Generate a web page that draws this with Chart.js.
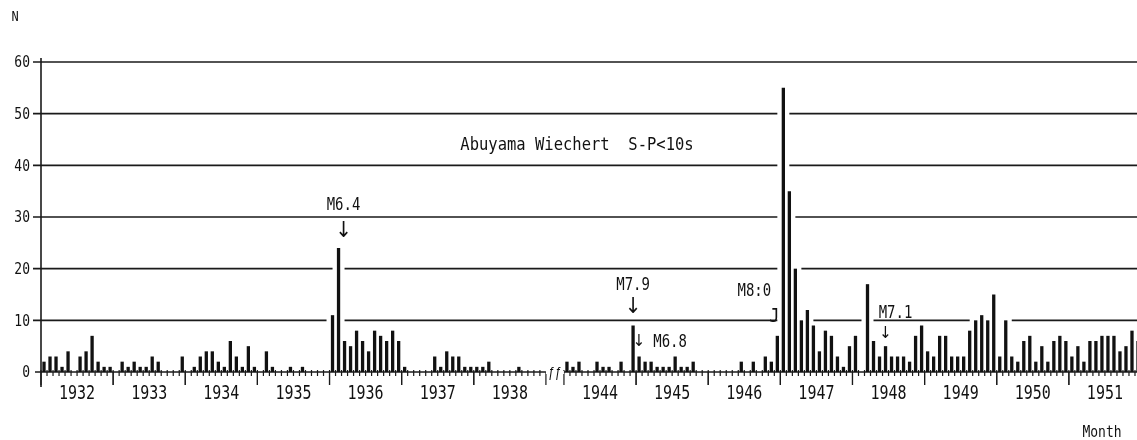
<!DOCTYPE html>
<html>
<head>
<meta charset="utf-8">
<script src="https://cdn.jsdelivr.net/npm/chart.js@4.4.1/dist/chart.umd.min.js"></script>
<style>
  html, body { margin:0; padding:0; background:#fff; overflow:hidden; }
  #wrap { width:1150px; height:440px; }
</style>
</head>
<body>
<div id="wrap"><canvas id="quakeChart" width="1150" height="440"></canvas></div>
<script>
// Monthly counts, Abuyama Wiechert S-P<10s
const yearsA = [1932,1933,1934,1935,1936,1937,1938];
const yearsB = [1944,1945,1946,1947,1948,1949,1950,1951];

const n1932 = [2,3,3,1,4,0,3,4,7,2,1,1];
const n1933 = [0,2,1,2,1,1,3,2,0,0,0,3];
const n1934 = [0,1,3,4,4,2,1,6,3,1,5,1];
const n1935 = [0,4,1,0,0,1,0,1,0,0,0,0];
const n1936 = [11,24,6,5,8,6,4,8,7,6,8,6];
const n1937 = [1,0,0,0,0,3,1,4,3,3,1,1];
const n1938 = [1,1,2,0,0,0,0,1,0,0,0,0];
const n1944 = [2,1,2,0,0,2,1,1,0,2,0,9];
const n1945 = [3,2,2,1,1,1,3,1,1,2,0,0];
const n1946 = [0,0,0,0,0,2,0,2,0,3,2,7];
const n1947 = [55,35,20,10,12,9,4,8,7,3,1,5];
const n1948 = [7,0,17,6,3,5,3,3,3,2,7,9];
const n1949 = [4,3,7,7,3,3,3,8,10,11,10,15];
const n1950 = [3,10,3,2,6,7,2,5,2,6,7,6];
const n1951 = [3,5,2,6,6,7,7,7,4,5,8,6];

const yTicks = [0,10,20,30,40,50,60];
const quakeLabels = ['M6.4','M7.9','M6.8','M8:0','M7.1'];
const quakeMonths = ['1936-02','1944-12','1945-01','1946-12','1948-06'];

const byYear = {1932:n1932,1933:n1933,1934:n1934,1935:n1935,1936:n1936,1937:n1937,1938:n1938,
  1944:n1944,1945:n1945,1946:n1946,1947:n1947,1948:n1948,1949:n1949,1950:n1950,1951:n1951};

// build the month axis: block A, 3 empty slots for the time break, block B
const labels = [], counts = [];
function addYears(list){
  list.forEach(y => byYear[y].forEach((v,m) => {
    labels.push(y + '-' + String(m+1).padStart(2,'0'));
    counts.push(v);
  }));
}
addYears(yearsA);
for (let i=0;i<3;i++){ labels.push('break'+i); counts.push(null); }
addYears(yearsB);

const MONO = '"DejaVu Sans Mono", monospace';

// text helper: narrow typewriter look (stretched vertically)
function txt(ctx, s, x, y, size, stretch, align, family){
  ctx.save();
  ctx.translate(x, y);
  ctx.scale(1, stretch || 1);
  ctx.font = size + 'px ' + (family || MONO);
  ctx.textAlign = align || 'center';
  ctx.textBaseline = 'middle';
  ctx.fillStyle = '#111';
  ctx.fillText(s, 0, 0);
  ctx.restore();
}

// where the notes sit (value units on y, px offset on x from the marked bar)
const notePlace = {
  'M6.4': { tx:5,   ty:32.3, ax:5,  ay:27.3, arrow:'↓', as:20 },
  'M7.9': { tx:0,   ty:16.8, ax:0,  ay:12.6, arrow:'↓', as:20 },
  'M6.8': { tx:31,  ty:5.8,  ax:0,  ay:5.9,  arrow:'↓', as:15 },
  'M8:0': { tx:-23, ty:15.7, ax:-3, ay:10.6, arrow:'J', as:17 },
  'M7.1': { tx:10,  ty:11.4, ax:0,  ay:7.4,  arrow:'↓', as:15 }
};

const paperAxes = {
  id:'paperAxes',
  beforeDatasetsDraw(chart){
    const {ctx, chartArea, scales:{x, y}} = chart;
    const slot = x.getPixelForValue(1) - x.getPixelForValue(0);
    ctx.save();
    ctx.strokeStyle = '#1a1a1a';
    ctx.lineWidth = 1.6;
    // horizontal grid lines, broken where a bar pokes through
    yTicks.forEach(v => {
      const py = y.getPixelForValue(v);
      if (v > 0) {
        const gaps = [];
        counts.forEach((c,i) => {
          if (c != null && c >= v) {
            const cx = x.getPixelForValue(i);
            gaps.push([cx - slot/2 - 3, cx + slot/2 + 3]);
          }
        });
        let start = chartArea.left - 8;
        ctx.beginPath();
        gaps.forEach(g => {
          if (g[0] > start) { ctx.moveTo(start, py); ctx.lineTo(g[0], py); }
          start = Math.max(start, g[1]);
        });
        ctx.moveTo(start, py); ctx.lineTo(chartArea.right, py);
        ctx.stroke();
      }
      txt(ctx, String(v), 30, py + 1, 13, 1.25, 'right');
    });
    // zero line / x axis
    const y0 = y.getPixelForValue(0);
    ctx.beginPath();
    ctx.moveTo(chartArea.left - 6, y0); ctx.lineTo(chartArea.right, y0);
    ctx.stroke();
    // y axis line
    ctx.beginPath();
    ctx.moveTo(chartArea.left, chartArea.top - 4); ctx.lineTo(chartArea.left, y0 + 15);
    ctx.stroke();
    ctx.restore();
  },
  afterDatasetsDraw(chart){
    const {ctx, chartArea, scales:{x, y}} = chart;
    const slot = x.getPixelForValue(1) - x.getPixelForValue(0);
    const y0 = y.getPixelForValue(0);
    ctx.save();
    ctx.strokeStyle = '#1a1a1a';
    ctx.lineWidth = 1.2;
    // month ticks and year ticks
    labels.forEach((lab, i) => {
      if (lab.startsWith('break')) return;
      const bx = x.getPixelForValue(i) - slot/2;
      const isYear = lab.endsWith('-01');
      ctx.beginPath();
      ctx.moveTo(bx, y0 - 2);
      ctx.lineTo(bx, y0 + (isYear ? 13 : 4));
      ctx.stroke();
      if (lab.endsWith('-12')) {
        const ex = x.getPixelForValue(i) + slot/2;
        ctx.beginPath(); ctx.moveTo(ex, y0); ctx.lineTo(ex, y0 + 13); ctx.stroke();
      }
      if (lab.endsWith('-06')) {
        txt(ctx, lab.slice(0,4), bx + slot, 394, 15, 1.3, 'center');
      }
    });
    // time break mark
    const bi = labels.indexOf('break1');
    const bxm = x.getPixelForValue(bi);
    ctx.fillStyle = '#fff';
    ctx.fillRect(bxm - 9, y0 - 1, 18, 3);
    txt(ctx, 'ƒƒ', bxm, y0 + 1, 19, 1.15, 'center', 'italic "DejaVu Sans", sans-serif');

    // quake notes
    quakeLabels.forEach((name, k) => {
      const i = labels.indexOf(quakeMonths[k]);
      const cx = x.getPixelForValue(i);
      const p = notePlace[name];
      txt(ctx, name, cx + p.tx, y.getPixelForValue(p.ty), 14, 1.3, 'center');
      txt(ctx, p.arrow, cx + p.ax, y.getPixelForValue(p.ay), p.as, 1.1, 'center',
          p.arrow === 'J' ? MONO : '"DejaVu Sans", sans-serif');
    });

    // titles
    txt(ctx, 'Abuyama Wiechert  S-P<10s', chartArea.left + 536, 145, 15.5, 1.15, 'center');
    txt(ctx, 'N', 15, 17, 12, 1.2, 'center');
    txt(ctx, 'Month', 1102, 433, 13, 1.15, 'center');
    ctx.restore();
  }
};

new Chart(document.getElementById('quakeChart').getContext('2d'), {
  type:'bar',
  data:{
    labels: labels,
    datasets:[{ data: counts, backgroundColor:'#111', barPercentage:0.55, categoryPercentage:1.0 }]
  },
  options:{
    responsive:false,
    animation:false,
    devicePixelRatio:1,
    layout:{ padding:{ left:0, right:9, top:62, bottom:68 } },
    plugins:{ legend:{display:false}, tooltip:{enabled:false} },
    scales:{
      x:{ display:false, offset:true },
      y:{
        min:0, max:60,
        grid:{ display:false, drawTicks:false },
        border:{ display:false },
        ticks:{ display:false, stepSize:10 },
        afterFit(s){ s.width = 41; }
      }
    }
  },
  plugins:[paperAxes]
});
</script>
</body>
</html>
